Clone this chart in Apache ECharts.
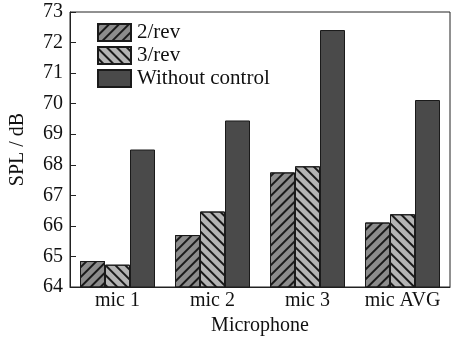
<!DOCTYPE html>
<html><head><meta charset="utf-8">
<script src="https://cdn.jsdelivr.net/npm/echarts@6/dist/echarts.min.js"></script>
<style>html,body{margin:0;padding:0;background:#fff}#c{width:453px;height:341px}</style>
</head><body><div id="c"></div>
<script>
const categories = ['mic 1', 'mic 2', 'mic 3', 'mic AVG'];
const rev2 = [64.85, 65.70, 67.75, 66.11];
const rev3 = [64.73, 66.47, 67.95, 66.38];
const withoutControl = [68.50, 69.45, 72.41, 70.12];
const seriesNames = ['2/rev', '3/rev', 'Without control'];

const font = 'Liberation Serif';
const chart = echarts.init(document.getElementById('c'), null, {renderer: 'canvas'});
const hatch = (rot) => ({
  symbol: 'rect', color: '#1a1a1a', dashArrayX: [1, 0], dashArrayY: [1.2, 4.3], rotation: rot, symbolSize: 1
});
chart.setOption({
  animation: false,
  backgroundColor: '#fff',
  grid: {left: 70, right: 3, top: 12, bottom: 48, show: true, borderColor: '#222', borderWidth: 1, containLabel: false},
  legend: {
    left: 97, top: 22, orient: 'vertical', itemWidth: 33, itemHeight: 17, itemGap: 2, icon: 'rect',
    padding: 0,
    textStyle: {fontFamily: font, fontSize: 21, lineHeight: 17, color: '#111', padding: [0,0,0,1]},
    data: seriesNames
  },
  xAxis: {
    type: 'category', data: categories,
    axisLine: {lineStyle: {color: '#222', width: 1}},
    axisTick: {show: false},
    axisLabel: {fontFamily: font, fontSize: 20, color: '#111', margin: 4, interval: 0},
    name: 'Microphone', nameLocation: 'middle', nameGap: 29,
    nameTextStyle: {fontFamily: font, fontSize: 20, color: '#111'}
  },
  yAxis: {
    type: 'value', min: 64, max: 73, interval: 1,
    axisLine: {show: true, lineStyle: {color: '#222', width: 1}},
    axisTick: {show: true, inside: true, length: 6, lineStyle: {color: '#222'}},
    splitLine: {show: false},
    axisLabel: {fontFamily: font, fontSize: 20, color: '#111', margin: 7},
    name: 'SPL / dB', nameLocation: 'middle', nameGap: 42,
    nameTextStyle: {fontFamily: font, fontSize: 20, color: '#111'}
  },
  series: [
    {name: seriesNames[0], type: 'bar', data: rev2, barWidth: 25, barGap: '0%',
     itemStyle: {color: '#8c8c8c', borderColor: '#1a1a1a', borderWidth: 1, decal: hatch(-Math.PI/4)}},
    {name: seriesNames[1], type: 'bar', data: rev3, barWidth: 25, barGap: '0%',
     itemStyle: {color: '#b4b4b4', borderColor: '#1a1a1a', borderWidth: 1, decal: hatch(Math.PI/4)}},
    {name: seriesNames[2], type: 'bar', data: withoutControl, barWidth: 25, barGap: '0%',
     itemStyle: {color: '#4a4a4a', borderColor: '#1a1a1a', borderWidth: 1}}
  ]
});
</script></body></html>
